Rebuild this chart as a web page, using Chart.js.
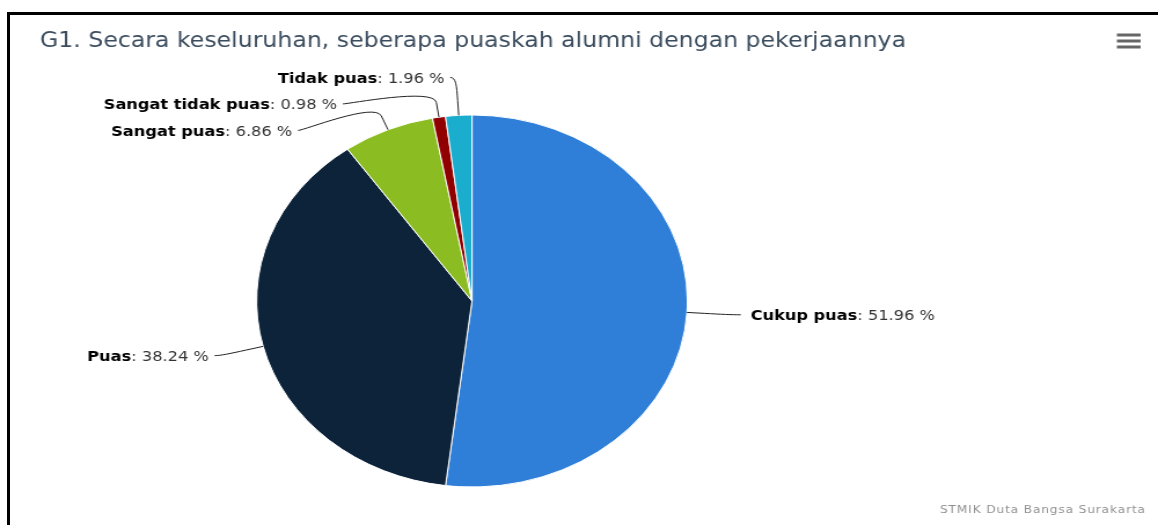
<!DOCTYPE html>
<html><head><meta charset="utf-8">
<script src="https://cdn.jsdelivr.net/npm/chart.js@4.4.0/dist/chart.umd.min.js"></script>
<style>
html,body{margin:0;padding:0;background:#fff;width:1158px;height:525px;overflow:hidden;}
#wrap{position:absolute;left:0;top:0;width:1000px;height:525px;transform:scaleX(1.158);transform-origin:0 0;}
#frame{position:absolute;left:7px;top:12px;width:1200px;height:600px;border-top:3px solid #000;border-left:3px solid #000;pointer-events:none;}
</style></head>
<body>
<div id="wrap"><canvas id="c"></canvas></div>
<div id="frame"></div>
<script>
const categories = ['Cukup puas', 'Puas', 'Sangat puas', 'Sangat tidak puas', 'Tidak puas'];
const counts = [53, 39, 7, 1, 2];
const colors = ['#2f7ed8', '#0d233a', '#8bbc21', '#910000', '#1aadce'];
const titleText = 'G1. Secara keseluruhan, seberapa puaskah alumni dengan pekerjaannya';
const creditText = 'STMIK Duta Bangsa Surakarta';

const total = counts.reduce((a, b) => a + b, 0);
const percents = counts.map(v => (v / total * 100).toFixed(2));

const FONT = '"DejaVu Sans", Verdana, sans-serif';

const decorPlugin = {
  id: 'decor',
  afterDraw(chart) {
    const ctx = chart.ctx;
    ctx.save();
    // title
    ctx.font = '20.4px ' + FONT;
    ctx.fillStyle = '#3a4c5e';
    ctx.textAlign = 'left';
    ctx.textBaseline = 'alphabetic';
    ctx.fillText(titleText, 34.5, 46.7);
    // credits
    ctx.font = '10.5px ' + FONT;
    ctx.fillStyle = '#909090';
    ctx.textAlign = 'right';
    if ('letterSpacing' in ctx) ctx.letterSpacing = '0.75px';
    ctx.fillText(creditText, 989.5, 513);
    if ('letterSpacing' in ctx) ctx.letterSpacing = '0px';
    // menu icon
    ctx.fillStyle = '#666';
    [33.5, 39.5, 45.5].forEach(yy => ctx.fillRect(964.5, yy, 20.5, 3));
    ctx.restore();
  }
};

const labelPlugin = {
  id: 'pieLabels',
  afterDatasetsDraw(chart) {
    const ctx = chart.ctx;
    const arcs = chart.getDatasetMeta(0).data;
    const dist = 38, connOff = 15, slot = 26.5;
    const items = arcs.map((arc, i) => {
      const p = arc.getProps(['x', 'y', 'startAngle', 'endAngle', 'outerRadius'], true);
      const mid = (p.startAngle + p.endAngle) / 2;
      const R = p.outerRadius + dist;
      return { i, cx: p.x, cy: p.y, r: p.outerRadius, R, mid,
        left: Math.cos(mid) < 0, natY: p.y + R * Math.sin(mid) };
    });
    [true, false].forEach(side => {
      const pts = items.filter(p => p.left === side).sort((a, b) => a.natY - b.natY);
      let prev = -Infinity;
      pts.forEach(p => { p.ly = Math.max(p.natY, prev + slot); prev = p.ly; });
    });
    ctx.save();
    items.forEach(p => {
      const dy = p.ly - p.cy;
      const dx = Math.abs(dy) >= p.R ? 0 : Math.sqrt(p.R * p.R - dy * dy);
      const sgn = p.left ? -1 : 1;
      const x = p.cx + sgn * dx, y = p.ly;
      const startGap = p.left ? 5 : 8.5, textGap = p.left ? 10 : 17;
      const bx = p.cx + (p.r + connOff) * Math.cos(p.mid), by = p.cy + (p.r + connOff) * Math.sin(p.mid);
      const ex = p.cx + p.r * Math.cos(p.mid), ey = p.cy + p.r * Math.sin(p.mid);
      ctx.beginPath();
      ctx.moveTo(x + sgn * startGap, y);
      ctx.bezierCurveTo(x, y, 2 * bx - ex, 2 * by - ey, bx, by);
      ctx.lineTo(ex, ey);
      ctx.strokeStyle = '#222';
      ctx.lineWidth = 1;
      ctx.stroke();
      const name = categories[p.i];
      const val = ': ' + percents[p.i] + ' %';
      const bold = 'bold 14px ' + FONT, reg = '14px ' + FONT;
      ctx.font = bold; const wn = ctx.measureText(name).width;
      ctx.font = reg; const wv = ctx.measureText(val).width;
      const tx = p.left ? x - textGap - wn - wv : x + textGap;
      const ty = y + 5.5;
      ctx.textAlign = 'left';
      ctx.textBaseline = 'alphabetic';
      ctx.font = bold; ctx.fillStyle = '#000'; ctx.fillText(name, tx, ty);
      ctx.font = reg; ctx.fillStyle = '#333'; ctx.fillText(val, tx + wn, ty);
    });
    ctx.restore();
  }
};

new Chart(document.getElementById('c'), {
  type: 'pie',
  data: {
    labels: categories,
    datasets: [{ data: counts, backgroundColor: colors, borderColor: '#ffffff', borderWidth: 1, hoverOffset: 0 }]
  },
  options: {
    responsive: true,
    maintainAspectRatio: false,
    animation: false,
    events: [],
    layout: { padding: { left: 221.1, right: 405.9, top: 114.5, bottom: 37.5 } },
    plugins: { legend: { display: false }, tooltip: { enabled: false }, title: { display: false } }
  },
  plugins: [labelPlugin, decorPlugin]
});
</script>
</body></html>
